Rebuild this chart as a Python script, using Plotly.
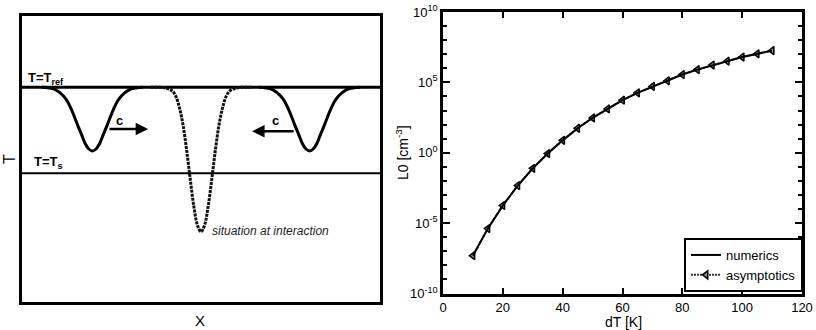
import plotly.graph_objects as go

# ---- left panel: schematic temperature profiles (x in 0..100, T_s = 0, T_ref = 1)
t_ref = 1.0
t_s = 0.0
pulse_centers = [20, 80]          # travelling pulses
meet_center = 50                  # pulse at interaction
# dip shapes: offset from centre -> T
dip_offset = [-14, -12, -10, -8, -7, -6, -5, -4, -3, -2, -1, 0, 1, 2, 3, 4, 5, 6, 7, 8, 10, 12, 14]
pulse_T = [1.0, 0.992, 0.968, 0.90, 0.843, 0.761, 0.661, 0.551, 0.45, 0.347, 0.283, 0.26,
           0.283, 0.347, 0.45, 0.551, 0.661, 0.761, 0.843, 0.90, 0.968, 0.992, 1.0]
meet_T = [1.0, 1.0, 0.995, 0.96, 0.90, 0.77, 0.57, 0.28, -0.06, -0.38, -0.60, -0.68,
          -0.60, -0.38, -0.06, 0.28, 0.57, 0.77, 0.90, 0.96, 0.995, 1.0, 1.0]

# ---- right panel: L0 versus dT
dT = [10, 15, 20, 25, 30, 35, 40, 45, 50, 55, 60, 65, 70, 75, 80, 85, 90, 95, 100, 105, 110]
L0 = [4.9e-8, 4.1e-6, 1.8e-4, 4.7e-3, 7.8e-2, 0.87, 7.6, 55, 3.0e2, 1.3e3, 5.4e3, 1.8e4,
      5.1e4, 1.3e5, 3.6e5, 8.1e5, 1.7e6, 3.2e6, 6.3e6, 1.07e7, 1.8e7]
x_tickvals = [0, 20, 40, 60, 80, 100, 120]
y_major = [1e-10, 1e-5, 1e0, 1e5, 1e10]
y_major_text = ["10<sup>-10</sup>", "10<sup>-5</sup>", "10<sup>0</sup>", "10<sup>5</sup>",
                "10<sup>10</sup>"]
y_minor = [10.0 ** k for k in range(-10, 11)]

W, H = 816, 330
FONT = "Liberation Sans, Arial, Helvetica, sans-serif"


def px(x):
    return x / W


def py(y):
    return 1 - y / H


def note(x, y, text, size=14, **kw):
    # text placed at a pixel position of the page
    d = dict(x=px(x), y=py(y), xref="paper", yref="paper", text=text, showarrow=False,
             xanchor="center", yanchor="middle", font=dict(size=size))
    d.update(kw)
    return d


fig = go.Figure()

# left panel
fig.add_trace(go.Scatter(x=[0, 100], y=[t_ref, t_ref], mode="lines",
                         line=dict(color="black", width=3), showlegend=False,
                         xaxis="x", yaxis="y"))
fig.add_trace(go.Scatter(x=[0, 100], y=[t_s, t_s], mode="lines",
                         line=dict(color="black", width=2), showlegend=False,
                         xaxis="x", yaxis="y"))
for c in pulse_centers:
    fig.add_trace(go.Scatter(x=[c + d for d in dip_offset], y=pulse_T, mode="lines",
                             line=dict(color="black", width=3, shape="spline"),
                             showlegend=False, xaxis="x", yaxis="y"))
fig.add_trace(go.Scatter(x=[meet_center + d for d in dip_offset], y=meet_T, mode="lines",
                         line=dict(color="#111111", width=3, dash="3px,1px", shape="spline"),
                         showlegend=False, xaxis="x", yaxis="y"))

# right panel (asymptotics first so the numerics line runs over its markers)
fig.add_trace(go.Scatter(x=dT, y=L0, mode="lines+markers", name="asymptotics", legendrank=2,
                         line=dict(color="#333333", width=2, dash="2px,1px"),
                         marker=dict(symbol="triangle-left", size=7, color="#8a8a8a",
                                     line=dict(color="black", width=1.5)),
                         xaxis="x2", yaxis="y2"))
fig.add_trace(go.Scatter(x=dT, y=L0, mode="lines", name="numerics", legendrank=1,
                         line=dict(color="black", width=2),
                         xaxis="x2", yaxis="y2"))

annotations = [
    note(26, 89, "<b>T=T<sub>ref</sub></b>", size=13, xanchor="left", yanchor="bottom"),
    note(32, 173, "<b>T=T<sub>s</sub></b>", size=13, xanchor="left", yanchor="bottom"),
    dict(x=35.4, y=0.515, ax=24.3, ay=0.515, xref="x", yref="y", axref="x", ayref="y",
         showarrow=True, arrowhead=2, arrowwidth=2.5, arrowsize=1, arrowcolor="black", text=""),
    dict(x=64.1, y=0.49, ax=76.0, ay=0.49, xref="x", yref="y", axref="x", ayref="y",
         showarrow=True, arrowhead=2, arrowwidth=2.5, arrowsize=1, arrowcolor="black", text=""),
    dict(x=27.6, y=0.62, xref="x", yref="y", text="<b>c</b>", showarrow=False,
         xanchor="center", yanchor="middle", font=dict(size=13)),
    dict(x=70.7, y=0.61, xref="x", yref="y", text="<b>c</b>", showarrow=False,
         xanchor="center", yanchor="middle", font=dict(size=13)),
    note(210, 231, "<i>situation at interaction</i>", size=12, xanchor="left",
         font=dict(size=12, color="#222222")),
    note(200, 320, "X", size=15),
    note(9, 159, "T", size=16, textangle=-90),
    note(402, 153, "L0 [cm<sup>-3</sup>]", size=14, textangle=-90),
    note(623, 322, "dT [K]", size=14),
]

frame = dict(showline=True, linecolor="black", showgrid=False, zeroline=False,
             automargin=False)

fig.update_layout(
    width=W, height=H,
    margin=dict(l=0, r=0, t=0, b=0, autoexpand=False),
    paper_bgcolor="white", plot_bgcolor="white",
    font=dict(family=FONT, color="black", size=13),
    xaxis=dict(domain=[px(21.5), px(380.2)], range=[0.41, 99.5], showticklabels=False,
               ticks="", linewidth=3, mirror=True, **frame),
    yaxis=dict(domain=[py(301.8), py(16.2)], range=[-1.494, 1.827], showticklabels=False,
               ticks="", linewidth=3, mirror=True, **frame),
    xaxis2=dict(domain=[px(443), px(802)], range=[0, 120], anchor="y2",
                tickvals=x_tickvals, ticks="inside", ticklen=6, mirror="ticks",
                tickwidth=2, tickcolor="black", linewidth=2.5, **frame),
    yaxis2=dict(domain=[py(293.5), py(12)], type="log", range=[-10, 10], anchor="x2",
                tickvals=y_major, ticktext=y_major_text, ticks="inside", ticklen=7,
                mirror="ticks", tickwidth=2, tickcolor="black", linewidth=2.5,
                minor=dict(tickvals=y_minor, ticks="inside", ticklen=4, tickwidth=2,
                           tickcolor="black", showgrid=False),
                **frame),
    legend=dict(x=px(803), y=py(292), xanchor="right", yanchor="bottom",
                bordercolor="black", borderwidth=2, bgcolor="white",
                font=dict(size=13), tracegroupgap=0, itemwidth=30),
    annotations=annotations,
)

# the page's default body margin would push the 816x330 figure out of the window
fig.write_html("out.html", config={"displayModeBar": False},
               post_script="document.body.style.margin = '0';")
